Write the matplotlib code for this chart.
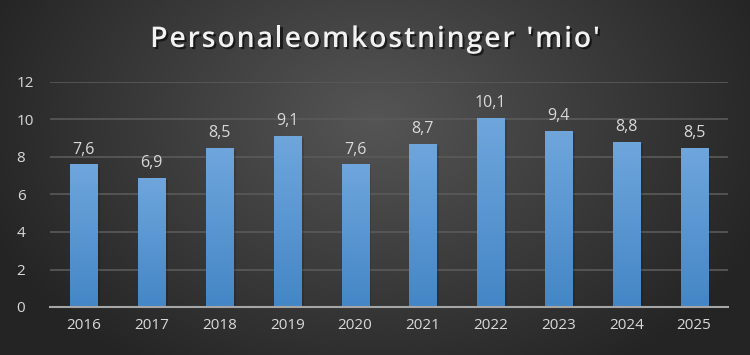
import numpy as np
import matplotlib
matplotlib.use("Agg")
import matplotlib.pyplot as plt
import matplotlib.patheffects as pe
from matplotlib.colors import LinearSegmentedColormap

years = ["2016", "2017", "2018", "2019", "2020", "2021", "2022", "2023", "2024", "2025"]
values = [7.6, 6.9, 8.5, 9.1, 7.6, 8.7, 10.1, 9.4, 8.8, 8.5]
labels = ["7,6", "6,9", "8,5", "9,1", "7,6", "8,7", "10,1", "9,4", "8,8", "8,5"]
yticks = [0, 2, 4, 6, 8, 10, 12]
title = "Personaleomkostninger 'mio'"

plt.rcParams['font.family'] = ['Open Sans', 'DejaVu Sans']

fig = plt.figure(figsize=(7.5, 3.55), dpi=100)

# radial background
bg = fig.add_axes([0, 0, 1, 1])
bg.set_axis_off()
yy, xx = np.mgrid[0:355, 0:750]
cx, cy = 375, 120
r = np.sqrt(((xx - cx) / 420.0) ** 2 + ((yy - cy) / 300.0) ** 2)
r = np.clip(r, 0, 1)
inner = np.array([0x55, 0x55, 0x55]) / 255
outer = np.array([0x24, 0x24, 0x24]) / 255
img = inner[None, None, :] * (1 - r[..., None]) + outer[None, None, :] * r[..., None]
bg.imshow(img, extent=[0, 1, 0, 1], aspect='auto', origin='upper')
bg.set_xlim(0, 1); bg.set_ylim(0, 1)

ax = fig.add_axes([50 / 750, 1 - 307 / 355, 678 / 750, 225 / 355])
ax.patch.set_alpha(0)
x = np.arange(len(years))
bars = ax.bar(x, values, width=0.4, color='none', zorder=3)
cmap = LinearSegmentedColormap.from_list('b', ['#4486c6', '#6fa6dc'])
grad = np.linspace(0, 1, 256).reshape(-1, 1)
for b in bars:
    b.set_path_effects([pe.SimplePatchShadow(offset=(2, -1.5), shadow_rgbFace='black', alpha=0.12), pe.Normal()])
    im = ax.imshow(grad, cmap=cmap, origin='lower', aspect='auto',
                   extent=[b.get_x(), b.get_x() + b.get_width(), 0, b.get_height()], zorder=3)
    im.set_clip_path(b)
for xi, v, lab in zip(x, values, labels):
    ax.annotate(lab, (xi, v), xytext=(0, 5), textcoords='offset points', ha='center', va='bottom',
                color='#d9d9d9', fontsize=11.5)

ax.set_xlim(-0.5, len(years) - 0.5)
ax.set_ylim(0, 12)
ax.set_yticks(yticks)
ax.set_yticklabels([str(t) for t in yticks])
ax.set_xticks(x)
ax.set_xticklabels(years)
ax.tick_params(axis='both', length=0, colors='#d9d9d9', labelsize=11)
ax.tick_params(axis='y', pad=24)
ax.tick_params(axis='x', pad=8)
for t in ax.get_yticklabels():
    t.set_horizontalalignment('left')
ax.yaxis.grid(True, color='#5a5a5a', linewidth=1.2, zorder=1)
ax.set_axisbelow(True)
for s in ['top', 'right', 'left']:
    ax.spines[s].set_visible(False)
ax.spines['bottom'].set_color('#a6a6a6')
ax.spines['bottom'].set_linewidth(1.5)
ax.spines['bottom'].set_zorder(4)

# letter-spaced title
renderer = fig.canvas.get_renderer()
tprops = dict(color='#f2f2f2', fontsize=20.5, fontweight='semibold', va='baseline', ha='left',
              path_effects=[pe.withSimplePatchShadow(offset=(1.5, -1.5), shadow_rgbFace='black', alpha=0.6)])
spacing = 1.8  # px
widths = []
for ch in title:
    t = fig.text(0, 0, ch if ch != ' ' else 'n', **tprops)
    w = t.get_window_extent(renderer).width
    if ch == ' ':
        w *= 0.45
    widths.append(w)
    t.remove()
total = sum(widths) + spacing * (len(title) - 1)
xpos = 375 - total / 2
ypix = 355 - 47
for ch, w in zip(title, widths):
    if ch != ' ':
        fig.text(xpos / 750, ypix / 355, ch, **tprops)
    xpos += w + spacing

fig.savefig('out.png', dpi=100)
